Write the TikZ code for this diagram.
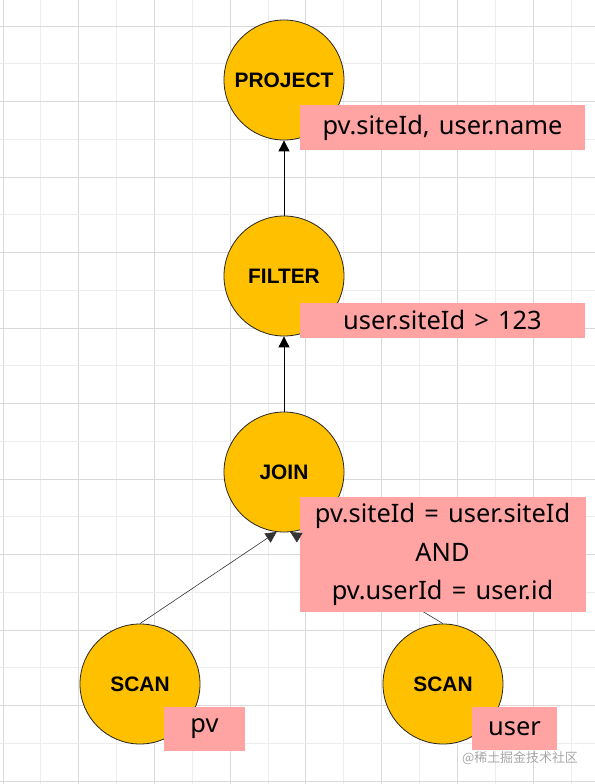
\documentclass[tikz,border=0pt]{standalone}
\usepackage{fontspec}
\setmainfont{Noto Sans}[WordSpace=1.4]
\newfontfamily\opfont{Liberation Sans}
\newfontfamily\cjkfont{Noto Sans CJK SC}
\usetikzlibrary{arrows.meta}
\definecolor{gridA}{HTML}{D9D9D9}
\definecolor{gridB}{HTML}{EDEDED}
\definecolor{opfill}{HTML}{FFC000}
\definecolor{labfill}{HTML}{FFA3A3}
\definecolor{wmark}{HTML}{A8A8A8}
\tikzset{
  opnode/.style={circle, draw=black!85, line width=0.8bp, fill=opfill, minimum size=120bp, inner sep=0pt,
    font=\opfont\bfseries\fontsize{21}{25}\selectfont},
  labnode/.style={rectangle, fill=labfill, inner sep=0pt, align=center,
    font=\fontsize{25.5}{38.5}\selectfont},
  flow/.style={-{Triangle[length=11bp,width=11bp]}, line width=0.9bp, black},
  flowthin/.style={line width=0.6bp, black!80},
  flowthinarrow/.style={-{Triangle[length=11bp,width=11bp]}, line width=0.6bp, black!80},
}
\begin{document}
\begin{tikzpicture}[x=1bp,y=-1bp]
\useasboundingbox (0,0) rectangle (595,784);
\fill[white] (0,0) rectangle (595,784);
% grid
\foreach \k in {0,...,15} {
  \pgfmathsetmacro{\xx}{3+37.86*\k}
  \pgfmathtruncatemacro{\parity}{mod(\k,2)}
  \ifnum\parity=0
    \draw[gridA, line width=0.8bp] (\xx,0) -- (\xx,784);
  \else
    \draw[gridB, line width=0.8bp] (\xx,0) -- (\xx,784);
  \fi
}
\foreach \k in {0,...,20} {
  \pgfmathsetmacro{\yy}{26+37.75*\k}
  \pgfmathtruncatemacro{\parity}{mod(\k,2)}
  \ifnum\parity=0
    \draw[gridA, line width=0.8bp] (0,\yy) -- (595,\yy);
  \else
    \draw[gridB, line width=0.8bp] (0,\yy) -- (595,\yy);
  \fi
}
% operators
\node[opnode] (project) at (284,80) {PROJECT};
\node[opnode] (filter) at (284,276) {FILTER};
\node[opnode] (join) at (284,472) {JOIN};
\node[opnode] (scanpv) at (140,684) {SCAN};
\node[opnode] (scanuser) at (443,684) {SCAN};
% connectors
\draw[flow] (filter) -- (project);
\draw[flow] (join) -- (filter);
\draw[flowthinarrow] (scanpv.north) -- (join.-97);
\draw[flowthin] (scanuser.north) -- (join.-84) coordinate[pos=0.94] (uend);
% labels
\node[labnode, minimum width=285bp, minimum height=45bp] (projlab) at (442.5,127.5) {pv.siteId, user.name};
\node[labnode, minimum width=285bp, minimum height=35bp] (filtlab) at (442.5,320) {user.siteId > 123};
\node[labnode, minimum width=286bp, minimum height=115bp] (joinlab) at (442.5,554.5) {pv.siteId = user.siteId\\AND\\pv.userId = user.id};
\node[labnode, minimum width=81bp, minimum height=44bp] (pvlab) at (204.5,729) {pv};
\node[labnode, minimum width=85bp, minimum height=43bp] (userlab) at (514.5,728.5) {user};
% arrowhead of the user connector, on top of the label box edge
\draw[flowthinarrow] (uend) -- (join.-84);
% watermark
\node[font=\cjkfont\fontsize{13}{15}\selectfont, text=wmark, inner sep=0pt] (wm) at (520,758) {@稀土掘金技术社区};
\end{tikzpicture}
\end{document}
